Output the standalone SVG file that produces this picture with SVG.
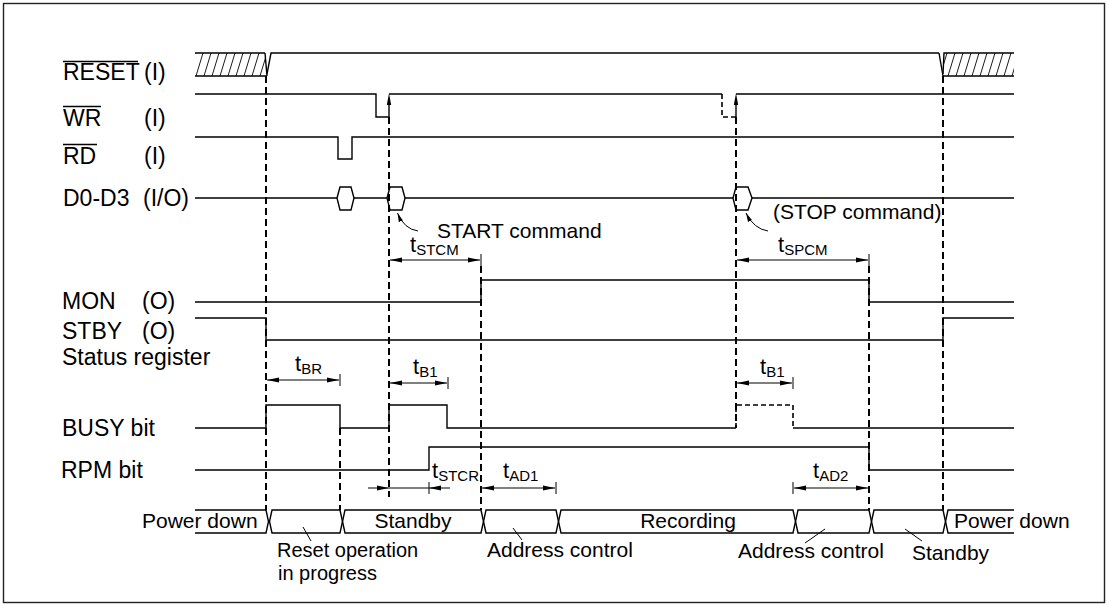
<svg xmlns="http://www.w3.org/2000/svg" width="1109" height="607" viewBox="0 0 1109 607">
<style>
.sig{fill:none;stroke:#000;stroke-width:1.4}
.dsig{fill:none;stroke:#000;stroke-width:1.6;stroke-dasharray:5 3}
.dash{fill:none;stroke:#000;stroke-width:2;stroke-dasharray:7 4}
.thin{fill:none;stroke:#000;stroke-width:1}
.hatch{stroke:#000;stroke-width:0.9}
.ov{stroke:#000;stroke-width:1.5}
text{font-family:"Liberation Sans",Arial,sans-serif;fill:#000}
.lbl{font-size:23px}
.txt{font-size:21px}
.txs{font-size:20px}
.t{font-size:22px}
.sub{font-size:15px}
.ah{fill:#000}
</style>
<defs>
<marker id="ah" markerUnits="userSpaceOnUse" markerWidth="12" markerHeight="6" refX="12" refY="3" orient="auto-start-reverse" viewBox="0 0 12 6"><path d="M0,0.6 L12,3 L0,5.4 Z" fill="#000"/></marker>
<marker id="ahs" markerUnits="userSpaceOnUse" markerWidth="9" markerHeight="6" refX="9" refY="3" orient="auto" viewBox="0 0 9 6"><path d="M0,0.8 L9,3 L0,5.2 Z" fill="#000"/></marker>
<clipPath id="hl"><rect x="195" y="53" width="70" height="23"/></clipPath>
<clipPath id="hr"><rect x="944" y="53" width="70" height="23"/></clipPath>
</defs>
<rect x="3.5" y="3.5" width="1101" height="599" fill="#fff" stroke="#222" stroke-width="1.4"/>

<g id="labels">
<text class="lbl" x="63" y="80">RESET</text><text class="lbl" x="144" y="80">(I)</text>
<line class="ov" x1="63" y1="61.5" x2="138" y2="61.5"/>
<text class="lbl" x="63" y="126">WR</text><text class="lbl" x="144" y="126">(I)</text>
<line class="ov" x1="63" y1="106.5" x2="101" y2="106.5"/>
<text class="lbl" x="63" y="164">RD</text><text class="lbl" x="144" y="164">(I)</text>
<line class="ov" x1="63" y1="144.5" x2="97" y2="144.5"/>
<text class="lbl" x="63" y="206">D0-D3</text><text class="lbl" x="143" y="206">(I/O)</text>
<text class="lbl" x="62" y="309">MON</text><text class="lbl" x="142" y="309">(O)</text>
<text class="lbl" x="62" y="339">STBY</text><text class="lbl" x="142" y="339">(O)</text>
<text class="lbl" x="62" y="365">Status register</text>
<text class="lbl" x="62" y="436">BUSY bit</text>
<text class="lbl" x="61" y="478">RPM bit</text>
</g>

<g id="reset">
<line class="sig" x1="195" y1="53" x2="265" y2="53"/>
<line class="sig" x1="195" y1="76" x2="267" y2="76"/>
<g clip-path="url(#hl)">
<line class="hatch" x1="188" y1="76" x2="195" y2="53"/><line class="hatch" x1="196" y1="76" x2="203" y2="53"/><line class="hatch" x1="204" y1="76" x2="211" y2="53"/><line class="hatch" x1="212" y1="76" x2="219" y2="53"/><line class="hatch" x1="220" y1="76" x2="227" y2="53"/><line class="hatch" x1="228" y1="76" x2="235" y2="53"/><line class="hatch" x1="236" y1="76" x2="243" y2="53"/><line class="hatch" x1="244" y1="76" x2="251" y2="53"/><line class="hatch" x1="252" y1="76" x2="259" y2="53"/><line class="hatch" x1="260" y1="76" x2="267" y2="53"/>
</g>
<polyline class="sig" points="265,53 267,76"/>
<polyline class="sig" points="939,53 943,76"/>
<path class="sig" d="M267,74 L271,53 H939"/>
<path class="sig" d="M943,74 L944,53 H1014"/>
<line class="sig" x1="943" y1="76" x2="1014" y2="76"/>
<g clip-path="url(#hr)">
<line class="hatch" x1="940" y1="76" x2="947" y2="53"/><line class="hatch" x1="948" y1="76" x2="955" y2="53"/><line class="hatch" x1="956" y1="76" x2="963" y2="53"/><line class="hatch" x1="964" y1="76" x2="971" y2="53"/><line class="hatch" x1="972" y1="76" x2="979" y2="53"/><line class="hatch" x1="980" y1="76" x2="987" y2="53"/><line class="hatch" x1="988" y1="76" x2="995" y2="53"/><line class="hatch" x1="996" y1="76" x2="1003" y2="53"/><line class="hatch" x1="1004" y1="76" x2="1011" y2="53"/><line class="hatch" x1="1012" y1="76" x2="1019" y2="53"/>
</g>
</g>

<g id="wr">
<path class="sig" d="M195,94 H376 V117 H389 V100"/>
<path class="sig" d="M389,94 H722"/>
<path class="dsig" d="M722,94 V117 H736"/>
<path class="sig" d="M736,117 V100 M736,94 H1014"/>
<path class="ah" d="M386.8,105 L389,93.5 L391.2,105 Z"/>
<path class="ah" d="M733.8,105 L736,93.5 L738.2,105 Z"/>
</g>

<g id="rd">
<path class="sig" d="M195,137 H338 V159 H352 V137 H1014"/>
</g>

<g id="data">
<path class="sig" d="M195,198 H337 M354,198 H387 M405,198 H733 M752,198 H1014"/>
<polygon class="sig" points="337,198 340,187 351,187 354,198 351,210 340,210"/>
<polygon class="sig" points="387,198 390,187 402,187 405,198 402,210 390,210"/>
<polygon class="sig" points="733,198 736,187 748,187 752,198 748,210 736,210"/>
<path class="thin" d="M418,231 Q404,229 397.5,213" marker-end="url(#ahs)"/>
<path class="thin" d="M768,231 Q754,229 746,213" marker-end="url(#ahs)"/>
<text class="txt" x="437" y="238">START command</text>
<text class="txt" x="773" y="219">(STOP command)</text>
</g>

<g id="mon"><path class="sig" d="M195,302 H481 V280 H869 V302 H1014"/></g>
<g id="stby"><path class="sig" d="M195,318 H266 V340 H943 V318 H1014"/></g>

<g id="busy">
<path class="sig" d="M195,428 H266 V405 H340 V428 H389 V405 H447 V428 H736"/>
<path class="dsig" d="M736,428 V405 H793 V428"/>
<path class="sig" d="M793,428 H1014"/>
</g>

<g id="rpm"><path class="sig" d="M195,470 H429 V447 H869 V470 H1014"/></g>

<g id="bus">
<path class="sig" d="M195,510 H266 L268.5,521.5 L266,533 H195"/>
<path class="sig" d="M340,510 H272 L269.5,521.5 L272,533 H340 L342.5,521.5 Z"/>
<path class="sig" d="M481,510 H345 L342.5,521.5 L345,533 H481 L483.5,521.5 Z"/>
<path class="sig" d="M556,510 H486 L483.5,521.5 L486,533 H556 L558.5,521.5 Z"/>
<path class="sig" d="M793,510 H561 L558.5,521.5 L561,533 H793 L795.5,521.5 Z"/>
<path class="sig" d="M869,510 H798 L795.5,521.5 L798,533 H869 L871.5,521.5 Z"/>
<path class="sig" d="M943,510 H874 L871.5,521.5 L874,533 H943 L945.5,521.5 Z"/>
<path class="sig" d="M1014,510 H948 L945.5,521.5 L948,533 H1014"/>
<text class="txt" x="142" y="528">Power down</text>
<text class="txt" x="413" y="528" text-anchor="middle">Standby</text>
<text class="txt" x="688" y="528" text-anchor="middle">Recording</text>
<text class="txt" x="954" y="528">Power down</text>
<line class="thin" x1="303" y1="527" x2="311" y2="541"/>
<line class="thin" x1="513" y1="528" x2="522" y2="540"/>
<line class="thin" x1="825" y1="529" x2="805" y2="543"/>
<line class="thin" x1="905" y1="529" x2="922" y2="541"/>
<text class="txs" x="277" y="557">Reset operation</text>
<text class="txs" x="278" y="580">in progress</text>
<text class="txt" x="487" y="557">Address control</text>
<text class="txt" x="738" y="558">Address control</text>
<text class="txt" x="912" y="560">Standby</text>
</g>

<g id="connectors">
<line class="dash" x1="266" y1="76" x2="266" y2="510"/>
<line class="dash" x1="340" y1="428" x2="340" y2="510"/>
<line class="dash" x1="389" y1="117" x2="389" y2="497"/>
<line class="dash" x1="481" y1="266" x2="481" y2="510"/>
<line class="dash" x1="736" y1="117" x2="736" y2="428"/>
<line class="dash" x1="869" y1="266" x2="869" y2="510"/>
<line class="dash" x1="943" y1="76" x2="943" y2="510"/>
</g>

<g id="timings">
<line class="thin" x1="390" y1="260" x2="480" y2="260" marker-start="url(#ah)" marker-end="url(#ah)"/>
<line class="thin" x1="481" y1="254" x2="481" y2="266"/>
<text class="t" x="410" y="252">t<tspan class="sub" dy="3">STCM</tspan></text>
<line class="thin" x1="737" y1="260" x2="868" y2="260" marker-start="url(#ah)" marker-end="url(#ah)"/>
<line class="thin" x1="869" y1="254" x2="869" y2="266"/>
<text class="t" x="778" y="252">t<tspan class="sub" dy="3">SPCM</tspan></text>
<line class="thin" x1="267" y1="380" x2="339" y2="380" marker-start="url(#ah)" marker-end="url(#ah)"/>
<line class="thin" x1="340" y1="374" x2="340" y2="386"/>
<text class="t" x="295" y="371">t<tspan class="sub" dy="3">BR</tspan></text>
<line class="thin" x1="390" y1="383" x2="447" y2="383" marker-start="url(#ah)" marker-end="url(#ah)"/>
<line class="thin" x1="448" y1="377" x2="448" y2="389"/>
<text class="t" x="413" y="374">t<tspan class="sub" dy="3">B1</tspan></text>
<line class="thin" x1="737" y1="383" x2="792" y2="383" marker-start="url(#ah)" marker-end="url(#ah)"/>
<line class="thin" x1="793" y1="377" x2="793" y2="389"/>
<text class="t" x="760" y="374">t<tspan class="sub" dy="3">B1</tspan></text>
<line class="thin" x1="368" y1="488" x2="450" y2="488"/>
<path class="ah" d="M377,485.6 L389,488 L377,490.4 Z"/>
<path class="ah" d="M441,485.6 L429,488 L441,490.4 Z"/>
<line class="thin" x1="429" y1="482" x2="429" y2="494"/>
<text class="t" x="432" y="478">t<tspan class="sub" dy="3">STCR</tspan></text>
<line class="thin" x1="482" y1="488" x2="555" y2="488" marker-start="url(#ah)" marker-end="url(#ah)"/>
<line class="thin" x1="556" y1="482" x2="556" y2="494"/>
<text class="t" x="503" y="478">t<tspan class="sub" dy="3">AD1</tspan></text>
<line class="thin" x1="794" y1="488" x2="868" y2="488" marker-start="url(#ah)" marker-end="url(#ah)"/>
<line class="thin" x1="793" y1="482" x2="793" y2="494"/>
<text class="t" x="813" y="478">t<tspan class="sub" dy="3">AD2</tspan></text>
</g>
</svg>
